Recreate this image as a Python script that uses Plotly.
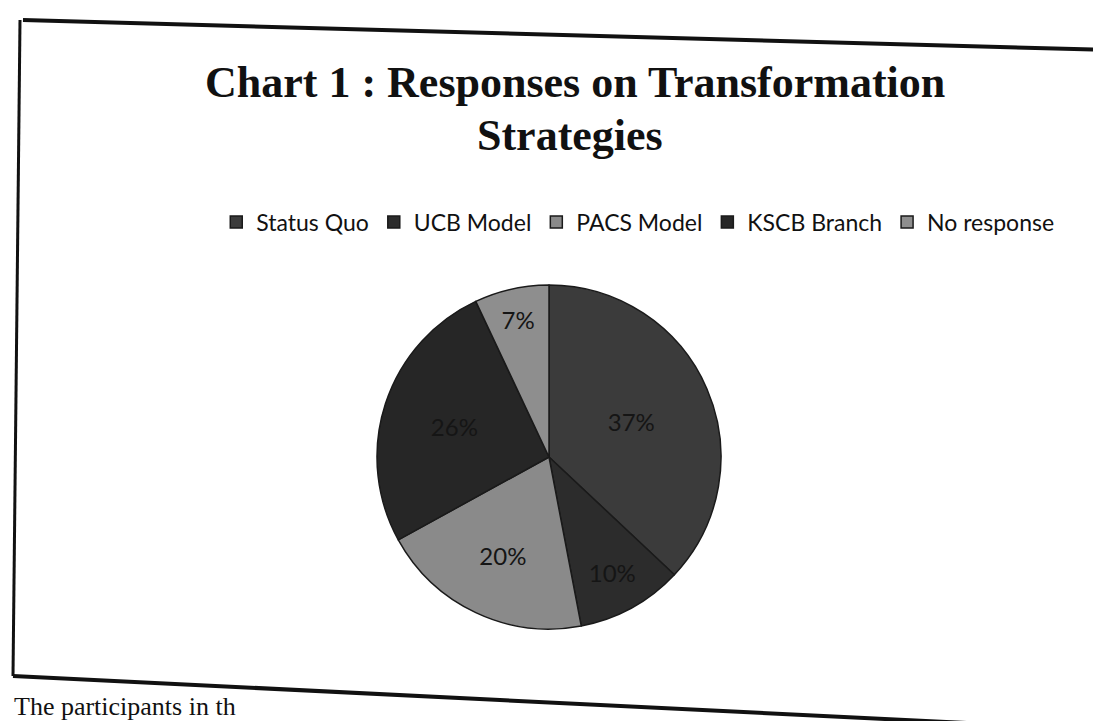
import plotly.graph_objects as go

categories = ["Status Quo", "UCB Model", "PACS Model", "KSCB Branch", "No response"]
values = [37, 10, 20, 26, 7]
colors = ["#3b3b3b", "#2c2c2c", "#8a8a8a", "#262626", "#8e8e8e"]

W, H = 1101, 721

fig = go.Figure(go.Pie(
    labels=categories,
    values=values,
    sort=False,
    direction="clockwise",
    rotation=0,
    texttemplate="%{percent:.0%}",
    textposition="inside",
    insidetextorientation="horizontal",
    textfont=dict(family="Lato, Open Sans, sans-serif", size=24, color="#151515"),
    marker=dict(colors=colors, line=dict(color="#1a1a1a", width=1.5)),
    domain=dict(x=[369 / W, 713 / W], y=[1 - 621 / H, 1 - 277 / H]),
    hoverinfo="label+percent",
))

fig.update_layout(
    width=W, height=H,
    margin=dict(l=0, r=0, t=0, b=0),
    paper_bgcolor="white",
    plot_bgcolor="white",
    showlegend=True,
    legend=dict(
        orientation="h",
        x=0.572, xanchor="center",
        y=1 - 214 / H, yanchor="middle",
        font=dict(family="Lato, Open Sans, sans-serif", size=23, color="#111111"),
        itemwidth=30,
        traceorder="normal",
    ),
    annotations=[
        dict(text="<b>Chart 1 : Responses on Transformation</b>", x=0.515, y=1 - 75 / H,
             xref="paper", yref="paper", showarrow=False, xanchor="center", yanchor="middle",
             font=dict(family="Liberation Serif, serif", size=44, color="#111111")),
        dict(text="<b>Strategies</b>", x=0.51, y=1 - 127 / H,
             xref="paper", yref="paper", showarrow=False, xanchor="center", yanchor="middle",
             font=dict(family="Liberation Serif, serif", size=44, color="#111111")),
        dict(text="The participants in th", x=4 / W, y=6 / H, xref="paper", yref="paper",
             showarrow=False, xanchor="left", yanchor="bottom",
             font=dict(family="Liberation Serif, serif", size=26, color="#111111")),
    ],
    shapes=[
        dict(type="line", xref="paper", yref="paper", x0=15 / W, y0=1 - 12 / H, x1=1.0, y1=1 - 42 / H,
             line=dict(color="#111111", width=4)),
        dict(type="line", xref="paper", yref="paper", x0=12 / W, y0=1 - 12 / H, x1=5 / W, y1=1 - 668 / H,
             line=dict(color="#111111", width=3)),
        dict(type="line", xref="paper", yref="paper", x0=5 / W, y0=1 - 668 / H, x1=1.0, y1=1 - 722 / H,
             line=dict(color="#111111", width=4)),
    ],
)

fig.write_html("out.html")
